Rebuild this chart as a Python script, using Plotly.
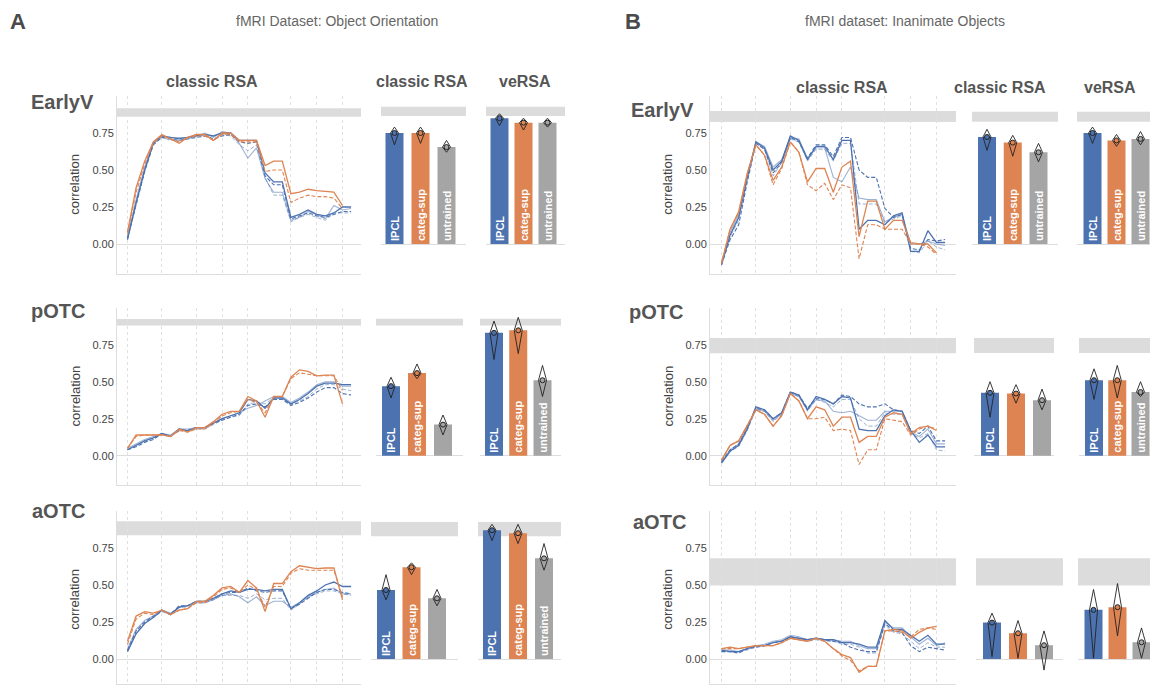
import plotly.graph_objects as go

W, H = 1150, 685
BLUE = '#4c72b0'
BLUE_L = 'rgba(76,114,176,0.55)'
ORANGE = '#dd8452'
GRAY = '#a5a5a5'
BAND = '#dcdcdc'
TXT = '#555555'

# ---------------- data ----------------
layer_grid = [0, 4, 8, 11, 14, 19, 22, 25]
models = ['IPCL', 'categ-sup', 'untrained']
rows = ['EarlyV', 'pOTC', 'aOTC']

# Panel A, classic RSA across layers
A_earlyv_ipcl_a = [0.03,0.28,0.50,0.68,0.73,0.72,0.71,0.72,0.73,0.74,0.73,0.75,0.75,0.70,0.70,0.70,0.48,0.42,0.42,0.18,0.20,0.23,0.20,0.19,0.21,0.25,0.25]
A_earlyv_ipcl_b = [0.04,0.26,0.49,0.67,0.72,0.71,0.70,0.71,0.72,0.73,0.71,0.73,0.74,0.69,0.68,0.69,0.46,0.40,0.40,0.17,0.19,0.21,0.19,0.18,0.20,0.22,0.22]
A_earlyv_ipcl_c = [0.05,0.30,0.52,0.69,0.73,0.72,0.72,0.72,0.73,0.75,0.72,0.76,0.75,0.68,0.58,0.65,0.44,0.35,0.35,0.16,0.18,0.22,0.20,0.17,0.26,0.23,0.24]
A_earlyv_ipcl_d = [0.03,0.27,0.50,0.68,0.72,0.70,0.70,0.71,0.73,0.74,0.70,0.74,0.73,0.67,0.63,0.67,0.45,0.33,0.33,0.15,0.18,0.20,0.18,0.16,0.21,0.21,0.21]
A_earlyv_sup_a = [0.08,0.38,0.56,0.69,0.74,0.71,0.68,0.72,0.74,0.74,0.70,0.75,0.75,0.70,0.70,0.70,0.53,0.56,0.56,0.34,0.35,0.37,0.36,0.355,0.35,0.26]
A_earlyv_sup_b = [0.07,0.35,0.54,0.68,0.73,0.71,0.69,0.72,0.73,0.73,0.70,0.74,0.74,0.69,0.69,0.69,0.49,0.50,0.50,0.28,0.31,0.33,0.32,0.32,0.31,0.24]

A_potc_ipcl_a = [0.04,0.07,0.10,0.12,0.15,0.13,0.18,0.17,0.19,0.19,0.22,0.25,0.27,0.29,0.38,0.37,0.32,0.39,0.39,0.35,0.38,0.42,0.47,0.49,0.49,0.48,0.48]
A_potc_ipcl_b = [0.04,0.06,0.09,0.11,0.15,0.13,0.17,0.17,0.19,0.19,0.22,0.24,0.26,0.28,0.34,0.35,0.33,0.38,0.38,0.34,0.36,0.39,0.43,0.46,0.46,0.42,0.41]
A_potc_ipcl_c = [0.05,0.08,0.11,0.13,0.15,0.14,0.18,0.18,0.19,0.19,0.22,0.25,0.27,0.29,0.32,0.34,0.37,0.40,0.40,0.36,0.39,0.43,0.48,0.50,0.50,0.47,0.47]
A_potc_ipcl_d = [0.04,0.07,0.10,0.12,0.15,0.13,0.17,0.17,0.18,0.18,0.21,0.24,0.26,0.27,0.35,0.36,0.35,0.39,0.39,0.35,0.37,0.40,0.45,0.48,0.48,0.45,0.44]
A_potc_sup_a = [0.05,0.14,0.14,0.14,0.14,0.13,0.18,0.16,0.19,0.19,0.23,0.28,0.30,0.30,0.40,0.37,0.26,0.40,0.40,0.53,0.58,0.57,0.54,0.545,0.545,0.35]
A_potc_sup_b = [0.05,0.13,0.14,0.14,0.14,0.13,0.17,0.16,0.18,0.18,0.22,0.27,0.29,0.30,0.38,0.36,0.29,0.40,0.40,0.52,0.56,0.55,0.54,0.54,0.54,0.44]

A_aotc_ipcl_a = [0.05,0.17,0.24,0.28,0.33,0.30,0.35,0.36,0.39,0.39,0.41,0.44,0.46,0.45,0.47,0.47,0.46,0.47,0.47,0.34,0.38,0.43,0.46,0.50,0.52,0.49,0.49]
A_aotc_ipcl_b = [0.06,0.19,0.25,0.29,0.33,0.30,0.36,0.36,0.39,0.39,0.41,0.44,0.45,0.45,0.48,0.46,0.45,0.46,0.46,0.34,0.37,0.41,0.45,0.47,0.47,0.45,0.44]
A_aotc_ipcl_c = [0.07,0.20,0.26,0.29,0.33,0.31,0.35,0.36,0.38,0.38,0.40,0.43,0.44,0.42,0.38,0.42,0.36,0.39,0.39,0.35,0.38,0.42,0.45,0.47,0.48,0.44,0.44]
A_aotc_ipcl_d = [0.05,0.18,0.24,0.28,0.32,0.30,0.35,0.35,0.38,0.38,0.40,0.43,0.43,0.43,0.41,0.44,0.40,0.41,0.41,0.33,0.37,0.42,0.44,0.46,0.46,0.44,0.43]
A_aotc_sup_a = [0.12,0.29,0.32,0.31,0.33,0.30,0.33,0.34,0.39,0.39,0.43,0.48,0.49,0.45,0.53,0.48,0.32,0.51,0.51,0.59,0.63,0.62,0.61,0.615,0.615,0.40]
A_aotc_sup_b = [0.10,0.27,0.31,0.30,0.33,0.30,0.33,0.34,0.38,0.38,0.42,0.47,0.48,0.45,0.50,0.47,0.35,0.49,0.49,0.58,0.61,0.60,0.60,0.60,0.60,0.42]

# Panel B, classic RSA across layers
B_earlyv_ipcl_a = [-0.14,0.06,0.18,0.45,0.69,0.65,0.50,0.56,0.73,0.70,0.57,0.66,0.66,0.57,0.70,0.70,0.10,0.16,0.16,0.13,0.19,0.21,-0.05,-0.05,0.09,0.01,0.01]
B_earlyv_ipcl_b = [-0.14,0.03,0.13,0.42,0.68,0.64,0.48,0.55,0.72,0.69,0.58,0.67,0.67,0.59,0.72,0.72,0.50,0.45,0.45,0.24,0.18,0.20,-0.03,-0.04,0.03,0.02,0.03]
B_earlyv_ipcl_c = [-0.13,0.08,0.20,0.46,0.69,0.66,0.52,0.57,0.72,0.71,0.58,0.65,0.65,0.45,0.42,0.52,0.31,0.30,0.30,0.15,0.18,0.20,0.00,0.00,0.02,0.00,-0.01]
B_earlyv_ipcl_d = [-0.13,0.05,0.16,0.44,0.68,0.64,0.46,0.55,0.71,0.69,0.56,0.64,0.64,0.56,0.68,0.68,0.27,0.27,0.27,0.14,0.17,0.19,-0.05,-0.06,0.02,-0.02,-0.04]
B_earlyv_sup_a = [-0.13,0.10,0.22,0.48,0.67,0.60,0.43,0.52,0.69,0.62,0.42,0.51,0.51,0.35,0.52,0.56,0.05,0.29,0.29,0.10,0.16,0.16,0.01,0.00,0.00,-0.06]
B_earlyv_sup_b = [-0.13,0.10,0.21,0.47,0.67,0.60,0.40,0.51,0.69,0.62,0.40,0.36,0.41,0.30,0.40,0.38,-0.10,0.13,0.13,0.10,0.10,0.10,0.00,0.00,-0.02,-0.07]

B_potc_ipcl_a = [-0.05,0.03,0.07,0.18,0.33,0.31,0.25,0.29,0.43,0.41,0.31,0.40,0.38,0.35,0.40,0.39,0.18,0.17,0.17,0.27,0.31,0.30,0.17,0.09,0.14,0.06,0.06]
B_potc_ipcl_b = [-0.04,0.04,0.08,0.19,0.32,0.31,0.25,0.29,0.43,0.41,0.32,0.39,0.38,0.35,0.41,0.40,0.35,0.33,0.33,0.35,0.31,0.30,0.17,0.15,0.20,0.10,0.10]
B_potc_ipcl_c = [-0.04,0.04,0.08,0.19,0.32,0.30,0.24,0.28,0.42,0.40,0.31,0.38,0.37,0.30,0.29,0.30,0.27,0.24,0.24,0.30,0.30,0.30,0.16,0.13,0.18,0.08,0.08]
B_potc_ipcl_d = [-0.05,0.03,0.06,0.17,0.31,0.30,0.23,0.28,0.42,0.40,0.30,0.38,0.36,0.33,0.38,0.38,0.25,0.20,0.20,0.29,0.28,0.28,0.15,0.12,0.15,0.04,0.03]
B_potc_sup_a = [-0.03,0.07,0.10,0.20,0.31,0.28,0.20,0.27,0.42,0.37,0.25,0.33,0.31,0.20,0.26,0.26,0.09,0.13,0.13,0.26,0.29,0.28,0.15,0.19,0.20,0.17]
B_potc_sup_b = [-0.03,0.07,0.10,0.20,0.31,0.28,0.20,0.27,0.42,0.37,0.25,0.25,0.26,0.17,0.18,0.17,-0.06,0.04,0.04,0.25,0.24,0.23,0.14,0.18,0.20,0.18]

B_aotc_ipcl_a = [0.06,0.05,0.05,0.07,0.09,0.09,0.11,0.12,0.15,0.14,0.13,0.14,0.13,0.13,0.11,0.11,0.10,0.08,0.08,0.26,0.20,0.20,0.16,0.12,0.16,0.10,0.10]
B_aotc_ipcl_b = [0.05,0.05,0.04,0.07,0.08,0.09,0.11,0.12,0.15,0.14,0.13,0.14,0.13,0.12,0.11,0.08,0.06,0.05,0.05,0.24,0.19,0.18,0.09,0.05,0.08,0.07,0.06]
B_aotc_ipcl_c = [0.06,0.06,0.05,0.07,0.09,0.10,0.12,0.13,0.16,0.15,0.13,0.14,0.13,0.13,0.12,0.12,0.09,0.07,0.07,0.25,0.21,0.21,0.15,0.10,0.14,0.09,0.11]
B_aotc_ipcl_d = [0.05,0.05,0.05,0.06,0.08,0.09,0.11,0.12,0.14,0.14,0.12,0.13,0.12,0.12,0.10,0.10,0.08,0.04,0.04,0.23,0.18,0.17,0.12,0.07,0.11,0.08,0.08]
B_aotc_sup_a = [0.07,0.08,0.07,0.08,0.09,0.09,0.09,0.11,0.14,0.13,0.12,0.14,0.12,0.07,0.03,0.01,-0.09,-0.05,-0.05,0.19,0.20,0.19,0.14,0.18,0.21,0.22]
B_aotc_sup_b = [0.07,0.07,0.07,0.08,0.09,0.09,0.09,0.11,0.14,0.13,0.12,0.14,0.12,0.07,0.02,-0.01,-0.08,-0.05,-0.05,0.19,0.19,0.18,0.15,0.20,0.21,0.20]

# Bar values (IPCL, categ-sup, untrained) with violin extents
A_earlyv_classic = [0.75, 0.75, 0.655];  A_earlyv_classic_top = [0.79, 0.79, 0.70];  A_earlyv_classic_bot = [0.67, 0.68, 0.62]
A_earlyv_versa = [0.85, 0.82, 0.82];     A_earlyv_versa_top = [0.88, 0.85, 0.85];    A_earlyv_versa_bot = [0.80, 0.77, 0.79]
A_potc_classic = [0.47, 0.558, 0.21];    A_potc_classic_top = [0.53, 0.62, 0.275];   A_potc_classic_bot = [0.39, 0.52, 0.14]
A_potc_versa = [0.83, 0.847, 0.51];      A_potc_versa_top = [0.91, 0.935, 0.61];     A_potc_versa_bot = [0.65, 0.69, 0.40]
A_aotc_classic = [0.466, 0.62, 0.41];    A_aotc_classic_top = [0.57, 0.65, 0.47];    A_aotc_classic_bot = [0.40, 0.57, 0.36]
A_aotc_versa = [0.87, 0.85, 0.68];       A_aotc_versa_top = [0.91, 0.91, 0.78];      A_aotc_versa_bot = [0.80, 0.78, 0.60]
B_earlyv_classic = [0.723, 0.685, 0.62]; B_earlyv_classic_top = [0.775, 0.734, 0.68]; B_earlyv_classic_bot = [0.633, 0.593, 0.555]
B_earlyv_versa = [0.75, 0.70, 0.71];     B_earlyv_versa_top = [0.79, 0.74, 0.76];    B_earlyv_versa_bot = [0.68, 0.66, 0.67]
B_potc_classic = [0.425, 0.42, 0.375];   B_potc_classic_top = [0.50, 0.48, 0.45];    B_potc_classic_bot = [0.26, 0.355, 0.31]
B_potc_versa = [0.51, 0.51, 0.43];       B_potc_versa_top = [0.587, 0.61, 0.50];     B_potc_versa_bot = [0.38, 0.39, 0.40]
B_aotc_classic = [0.246, 0.174, 0.093];  B_aotc_classic_top = [0.31, 0.26, 0.19];    B_aotc_classic_bot = [0.016, 0.005, -0.075]
B_aotc_versa = [0.332, 0.35, 0.113];     B_aotc_versa_top = [0.47, 0.51, 0.21];      B_aotc_versa_bot = [0.005, 0.156, 0.005]

# bar text labels shown in each bar
A_earlyv_classic_lbl = ['IPCL', 'categ-sup', 'untrained']; A_earlyv_versa_lbl = ['IPCL', 'categ-sup', 'untrained']
A_potc_classic_lbl = ['IPCL', 'categ-sup', ''];            A_potc_versa_lbl = ['IPCL', 'categ-sup', 'untrained']
A_aotc_classic_lbl = ['IPCL', 'categ-sup', ''];            A_aotc_versa_lbl = ['IPCL', 'categ-sup', 'untrained']
B_earlyv_classic_lbl = ['IPCL', 'categ-sup', 'untrained']; B_earlyv_versa_lbl = ['IPCL', 'categ-sup', 'untrained']
B_potc_classic_lbl = ['IPCL', '', ''];                     B_potc_versa_lbl = ['IPCL', 'categ-sup', 'untrained']
B_aotc_classic_lbl = ['', '', ''];                         B_aotc_versa_lbl = ['', '', '']

# noise ceiling bands [low, high]
A_earlyv_nc_line = [0.86, 0.917]; A_earlyv_nc_bar = [0.865, 0.927]
A_potc_nc_line = [0.879, 0.924];  A_potc_nc_bar = [0.879, 0.926]
A_aotc_nc_line = [0.836, 0.93];   A_aotc_nc_bar = [0.83, 0.926]
B_earlyv_nc_line = [0.824, 0.899]; B_earlyv_nc_bar = [0.826, 0.894]
B_potc_nc_line = [0.693, 0.795];   B_potc_nc_bar = [0.694, 0.795]
B_aotc_nc_line = [0.497, 0.68];    B_aotc_nc_bar = [0.497, 0.68]

yticks = [0.0, 0.25, 0.5, 0.75]

# ---------------- layout geometry (pixels) ----------------
UNIT = 148.0
row_zero = [244.0, 455.7, 659.0]
row_ymin = [-0.2, -0.2, -0.17]
line_geom = {'A': (117, 361, 127.5, 8.6), 'B': (710, 956, 721.5, 8.6)}
# (left, right, first-bar-center, spacing)
bar_geom = {
    ('A', 0): [(381, 466, 394.5, 26), (486, 565, 499.5, 24)],
    ('A', 1): [(376, 463, 391, 26), (480, 561, 494, 24.25)],
    ('A', 2): [(371, 458, 386, 25.5), (478, 561, 492, 26)],
    ('B', 0): [(972, 1058, 987, 25.75), (1077, 1150, 1092.5, 24)],
    ('B', 1): [(974, 1054, 990, 26), (1079, 1150, 1094, 23.25)],
    ('B', 2): [(976, 1063, 992, 26), (1078, 1150, 1093.5, 24)],
}

g = globals()
fig = go.Figure()
layout = {}
shapes = []
annotations = []
counter = [0]


def new_axes(xl, xr, xrange, row):
    counter[0] += 1
    n = counter[0]
    sfx = '' if n == 1 else str(n)
    top = row_zero[row] - 1.0 * UNIT
    bot = row_zero[row] - row_ymin[row] * UNIT
    ydom = [max(0, 1 - bot / H), min(1, 1 - top / H)]
    xdom = [xl / W, min(1, xr / W)]
    layout['xaxis' + sfx] = dict(domain=xdom, range=xrange, anchor='y' + sfx,
                                 showticklabels=False, showgrid=False, zeroline=False,
                                 showline=False, fixedrange=True)
    layout['yaxis' + sfx] = dict(domain=ydom, range=[row_ymin[row], 1.0], anchor='x' + sfx,
                                 showticklabels=False, showgrid=False, zeroline=True,
                                 zerolinecolor='#dddddd', zerolinewidth=1, showline=False)
    return 'x' + sfx, 'y' + sfx, sfx


def band(xs, ys, lohi):
    shapes.append(dict(type='rect', xref=xs + ' domain', yref=ys, x0=0, x1=1,
                       y0=lohi[0], y1=lohi[1], fillcolor=BAND, line=dict(width=0), layer='below'))


for p_i, panel in enumerate(['A', 'B']):
    for r_i, rname in enumerate(rows):
        key = rname.lower()
        # ---- line plot ----
        xl, xr, x0px, dx = line_geom[panel]
        xrange = [(xl - x0px) / dx, (xr - x0px) / dx]
        xs, ys, sfx = new_axes(xl, xr, xrange, r_i)
        layout['xaxis' + sfx].update(showgrid=True, tickvals=layer_grid, gridcolor='#e0e0e0',
                                     griddash='3px,3px', gridwidth=1, showline=True,
                                     linecolor='#dddddd', ticks='')
        layout['yaxis' + sfx].update(showticklabels=True, tickvals=yticks,
                                     ticktext=['%.2f' % v for v in yticks], ticks='',
                                     showline=True, linecolor='#dddddd',
                                     tickfont=dict(size=11, color='#444444', family='Liberation Sans'))
        band(xs, ys, g[f'{panel}_{key}_nc_line'])
        styles = [('ipcl_a', BLUE, 'solid', 1.3), ('ipcl_b', BLUE, '4px,2px', 1.1),
                  ('ipcl_c', BLUE_L, 'solid', 1.1), ('ipcl_d', BLUE_L, '4px,2px', 1.0),
                  ('sup_b', ORANGE, '4px,2px', 1.1), ('sup_a', ORANGE, 'solid', 1.3)]
        for nm, col, dash, lw in styles:
            yv = g[f'{panel}_{key}_{nm}']
            fig.add_trace(go.Scatter(x=list(range(len(yv))), y=yv, mode='lines',
                                     line=dict(color=col, width=lw, dash=dash),
                                     xaxis=xs, yaxis=ys, showlegend=False, hoverinfo='skip'))
        # y title
        yc = 1 - (row_zero[r_i] - 0.4 * UNIT) / H
        annotations.append(dict(text='correlation', x=(75 if panel == 'A' else 668) / W, y=yc,
                                xref='paper', yref='paper', textangle=-90, showarrow=False,
                                font=dict(size=13, color='#444444', family='Liberation Sans'),
                                xanchor='center', yanchor='middle'))
        # ---- bar plots ----
        for c_i, kind in enumerate(['classic', 'versa']):
            L, R, c0, s = bar_geom[(panel, r_i)][c_i]
            xs, ys, sfx = new_axes(L, R, [(L - c0) / s, (R - c0) / s], r_i)
            band(xs, ys, g[f'{panel}_{key}_nc_bar'])
            vals = g[f'{panel}_{key}_{kind}']
            tops = g[f'{panel}_{key}_{kind}_top']
            bots = g[f'{panel}_{key}_{kind}_bot']
            lbls = g[f'{panel}_{key}_{kind}_lbl']
            cols = [BLUE, ORANGE, GRAY]
            bw = 18.0 / s
            fig.add_trace(go.Bar(x=[0, 1, 2], y=vals, width=bw, marker=dict(color=cols, line=dict(width=0)),
                                 text=lbls, textposition='inside', insidetextanchor='start',
                                 textangle=-90, cliponaxis=False,
                                 textfont=dict(color='white', size=11, family='Liberation Sans', weight='bold'),
                                 xaxis=xs, yaxis=ys, showlegend=False, hoverinfo='skip'))
            # violins (kite outline) built from extents
            hw = 4.0 / s
            vx, vy = [], []
            for i in range(3):
                vx += [i, i + hw, i, i - hw, i, None]
                vy += [tops[i], vals[i], bots[i], vals[i], tops[i], None]
            fig.add_trace(go.Scatter(x=vx, y=vy, mode='lines', line=dict(color='#222222', width=0.9),
                                     xaxis=xs, yaxis=ys, showlegend=False, hoverinfo='skip',
                                     cliponaxis=False))
            fig.add_trace(go.Scatter(x=[0, 1, 2], y=vals, mode='markers',
                                     marker=dict(size=5, color=cols, line=dict(color='#222222', width=1)),
                                     xaxis=xs, yaxis=ys, showlegend=False, hoverinfo='skip',
                                     cliponaxis=False))

# ---------------- text annotations ----------------
def ann(text, xpx, ypx, size, bold=False, color=TXT, anchor='center'):
    annotations.append(dict(text=('<b>%s</b>' % text) if bold else text, x=xpx / W, y=1 - ypx / H,
                            xref='paper', yref='paper', showarrow=False, xanchor=anchor, yanchor='middle',
                            font=dict(size=size, color=color, family='Liberation Sans')))

ann('A', 18, 21, 22, bold=True, color='#4a4a4a')
ann('B', 633, 21, 22, bold=True, color='#4a4a4a')
ann('fMRI Dataset: Object Orientation', 337, 21, 14, color='#666666')
ann('fMRI dataset: Inanimate Objects', 905, 21, 14, color='#666666')

ann('classic RSA', 212, 82, 16, bold=True)
ann('classic RSA', 422, 82, 16, bold=True)
ann('veRSA', 525, 82, 16, bold=True)
ann('classic RSA', 842, 88, 16, bold=True)
ann('classic RSA', 1000, 88, 16, bold=True)
ann('veRSA', 1110, 88, 16, bold=True)

ann('EarlyV', 62, 102, 20, bold=True)
ann('pOTC', 58, 311, 20, bold=True)
ann('aOTC', 58, 511, 20, bold=True)
ann('EarlyV', 662, 110, 20, bold=True)
ann('pOTC', 656, 312, 20, bold=True)
ann('aOTC', 659, 522, 20, bold=True)

layout.update(dict(width=W, height=H, margin=dict(l=0, r=0, t=0, b=0),
                   paper_bgcolor='white', plot_bgcolor='white', showlegend=False,
                   shapes=shapes, annotations=annotations,
                   uniformtext=dict(minsize=11, mode='show'),
                   font=dict(family='Liberation Sans')))
fig.update_layout(**layout)
fig.write_html('out.html')
